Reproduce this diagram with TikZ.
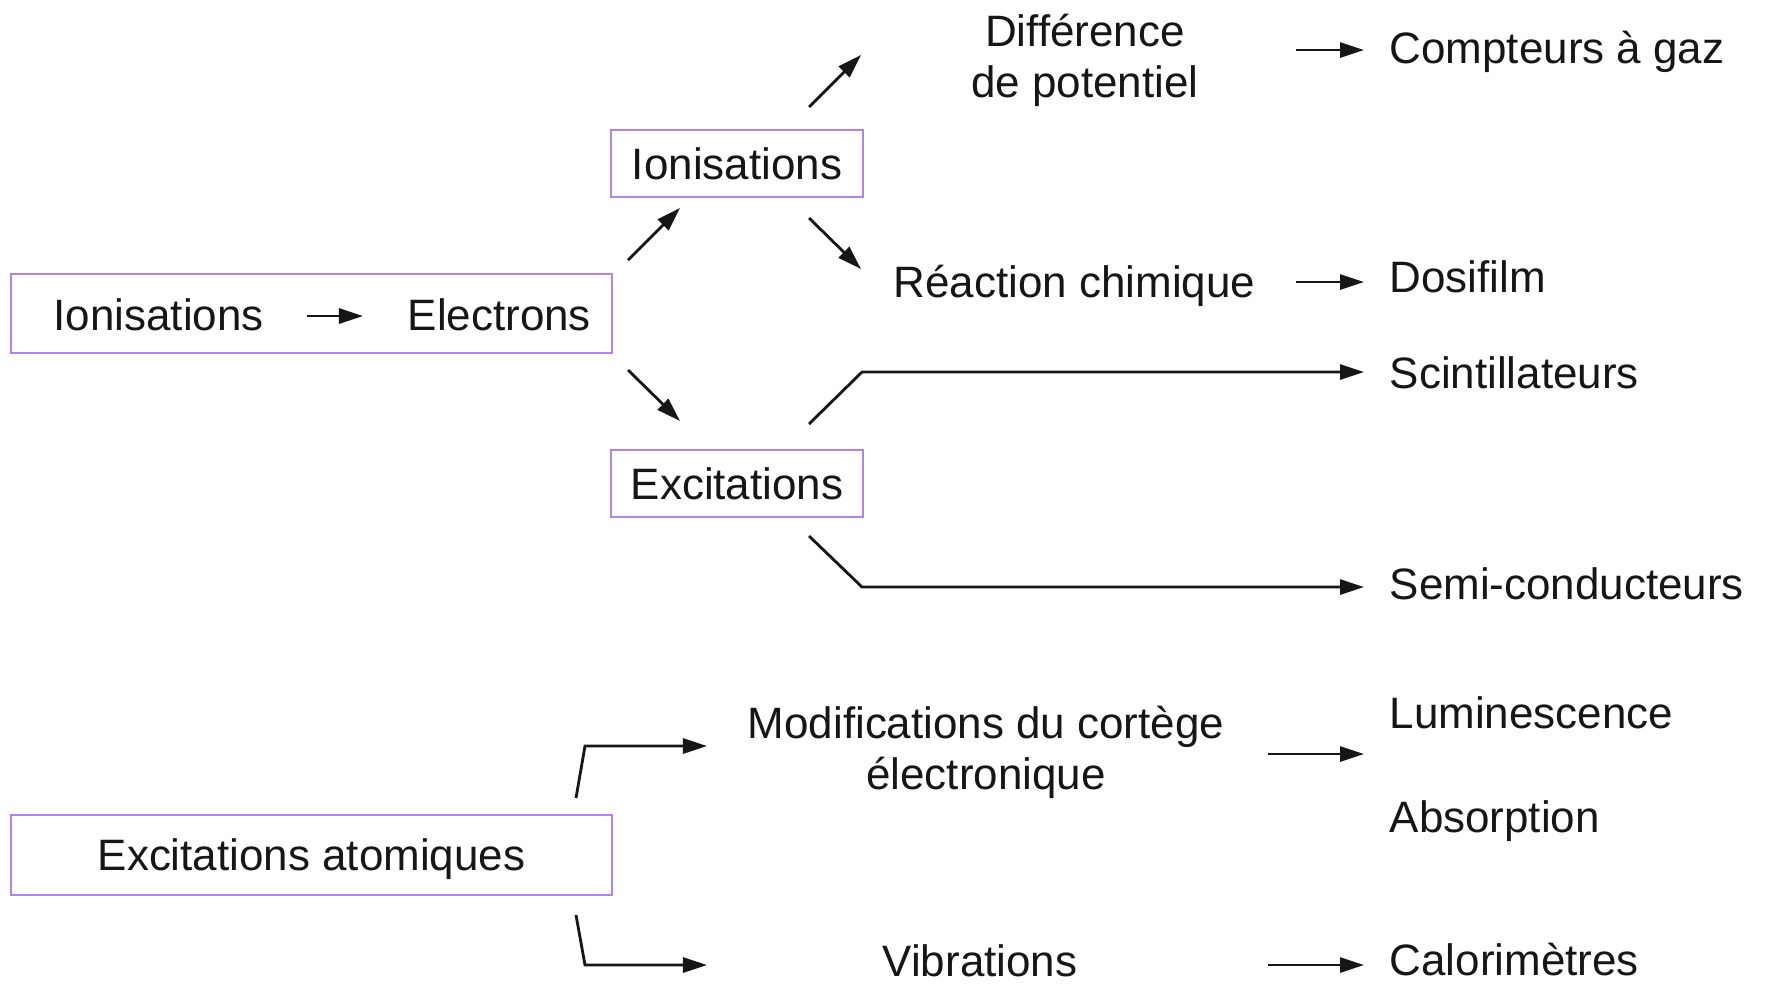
\documentclass[tikz,border=0pt]{standalone}
\usepackage{fontspec}
\setmainfont{Liberation Sans}
\usetikzlibrary{arrows.meta}
\definecolor{boxc}{RGB}{176,132,232}
\definecolor{ink}{RGB}{22,22,22}
\begin{document}
\begin{tikzpicture}[x=0.01cm,y=-0.01cm,
  every node/.style={font=\fontsize{12.5}{14.5}\selectfont, text=ink, inner sep=0pt},
  frame/.style={draw=boxc, line width=0.65pt, text depth=0pt},
  conn/.style={draw=ink, line width=0.8pt, -{Triangle[length=0.24cm,width=0.15cm]}},
  lbl/.style={anchor=base west},
  ctr/.style={anchor=base, align=center}]
\useasboundingbox (0,0) rectangle (1767,984);
\fill[white] (0,0) rectangle (1767,984);

% boxes
\node[frame, minimum width=6.01cm, minimum height=0.79cm] (b1) at (311.5,313.5) {};
\node[lbl] (ion1) at (53,330) {Ionisations};
\node[lbl] (elec) at (407,330) {Electrons};
\node[frame, minimum width=2.52cm, minimum height=0.67cm] (ion2) at (737,163.5) {Ionisations};
\node[frame, minimum width=2.52cm, minimum height=0.67cm] (exc) at (737,483.5) {Excitations};
\node[frame, minimum width=6.01cm, minimum height=0.80cm] (exat) at (311.5,855) {Excitations atomiques};

% middle texts (base = last line)
\node[ctr] (diff) at (1085,97) {Différence\\de potentiel};
\node[lbl] (reac) at (893,297) {Réaction chimique};
\node[ctr] (modif) at (986,789) {Modifications du cortège\\électronique};
\node[anchor=base] (vib) at (980,976) {Vibrations};

% right texts
\node[lbl] (comp) at (1389,63) {Compteurs à gaz};
\node[lbl] (dosi) at (1389,292) {Dosifilm};
\node[lbl] (scin) at (1389,388) {Scintillateurs};
\node[lbl] (semi) at (1389,599) {Semi-conducteurs};
\node[lbl] (lumi) at (1389,728) {Luminescence};
\node[lbl] (abso) at (1389,832) {Absorption};
\node[lbl] (calo) at (1389,975) {Calorimètres};

% connector end points
\coordinate (p0a) at (307,316);  \coordinate (p0b) at (363,316);
\coordinate (p1a) at (628,260);  \coordinate (p1b) at (680,208);
\coordinate (p2a) at (628,370);  \coordinate (p2b) at (680,421);
\coordinate (p3a) at (809,107);  \coordinate (p3b) at (861,55);
\coordinate (p4a) at (809,218);  \coordinate (p4b) at (861,269);
\coordinate (p5a) at (1296,50);  \coordinate (p5b) at (1364,50);
\coordinate (p6a) at (1296,282); \coordinate (p6b) at (1364,282);
\coordinate (p7a) at (809,424);  \coordinate (p7k) at (862,372); \coordinate (p7b) at (1364,372);
\coordinate (p8a) at (809,536);  \coordinate (p8k) at (862,587); \coordinate (p8b) at (1364,587);
\coordinate (p9a) at (576,798);  \coordinate (p9k) at (585,746); \coordinate (p9b) at (707,746);
\coordinate (q0a) at (576,915);  \coordinate (q0k) at (585,965); \coordinate (q0b) at (707,965);
\coordinate (q1a) at (1268,754); \coordinate (q1b) at (1364,754);
\coordinate (q2a) at (1268,965); \coordinate (q2b) at (1364,965);

% connectors
\draw[conn] (p0a) -- (p0b);
\draw[conn] (p1a) -- (p1b);
\draw[conn] (p2a) -- (p2b);
\draw[conn] (p3a) -- (p3b);
\draw[conn] (p4a) -- (p4b);
\draw[conn] (p5a) -- (p5b);
\draw[conn] (p6a) -- (p6b);
\draw[conn] (p7a) -- (p7k) -- (p7b);
\draw[conn] (p8a) -- (p8k) -- (p8b);
\draw[conn] (p9a) -- (p9k) -- (p9b);
\draw[conn] (q0a) -- (q0k) -- (q0b);
\draw[conn] (q1a) -- (q1b);
\draw[conn] (q2a) -- (q2b);
\end{tikzpicture}
\end{document}
